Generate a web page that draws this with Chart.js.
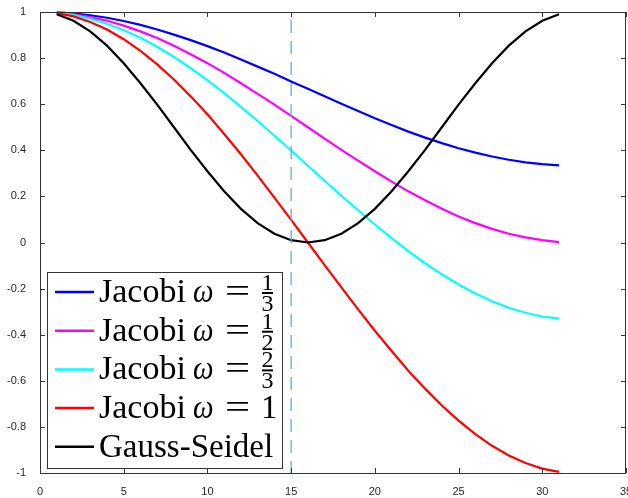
<!DOCTYPE html>
<html>
<head>
<meta charset="utf-8">
<script src="https://cdn.jsdelivr.net/npm/chart.js@4"></script>
<style>
  html, body { margin: 0; padding: 0; background: #fff; }
  #wrap { width: 628px; height: 498px; }
</style>
</head>
<body>
<div id="wrap"><canvas id="c" width="628" height="498"></canvas></div>
<script>
// mode index k
const modes = [1, 2, 3, 4, 5, 6, 7, 8, 9, 10, 11, 12, 13, 14, 15, 16,
  17, 18, 19, 20, 21, 22, 23, 24, 25, 26, 27, 28, 29, 30, 31];

// Jacobi w = 1/3
const jacobiThird = [0.998, 0.994, 0.986, 0.975, 0.961, 0.944, 0.924, 0.902, 0.878, 0.852,
  0.824, 0.794, 0.763, 0.732, 0.699, 0.667, 0.634, 0.602, 0.570, 0.539, 0.510, 0.481,
  0.455, 0.431, 0.409, 0.390, 0.373, 0.359, 0.348, 0.340, 0.335];
// Jacobi w = 1/2
const jacobiHalf = [0.998, 0.990, 0.978, 0.962, 0.941, 0.916, 0.887, 0.854, 0.817, 0.778,
  0.736, 0.691, 0.645, 0.598, 0.549, 0.500, 0.451, 0.402, 0.355, 0.309, 0.264, 0.222,
  0.183, 0.146, 0.113, 0.084, 0.059, 0.038, 0.022, 0.010, 0.002];
// Jacobi w = 2/3
const jacobiTwoThirds = [0.997, 0.987, 0.971, 0.949, 0.921, 0.888, 0.849, 0.805, 0.756, 0.704,
  0.648, 0.588, 0.527, 0.463, 0.399, 0.333, 0.268, 0.203, 0.140, 0.078, 0.019, -0.037,
  -0.090, -0.138, -0.182, -0.221, -0.255, -0.283, -0.305, -0.321, -0.330];
// Jacobi w = 1
const jacobiOne = [0.995, 0.981, 0.957, 0.924, 0.882, 0.831, 0.773, 0.707, 0.634, 0.556,
  0.471, 0.383, 0.290, 0.195, 0.098, 0.000, -0.098, -0.195, -0.290, -0.383, -0.471, -0.556,
  -0.634, -0.707, -0.773, -0.831, -0.882, -0.924, -0.957, -0.981, -0.995];
// Gauss-Seidel
const gaussSeidel = [0.990, 0.962, 0.916, 0.854, 0.778, 0.691, 0.598, 0.500, 0.402, 0.309,
  0.222, 0.146, 0.084, 0.038, 0.010, 0.000, 0.010, 0.038, 0.084, 0.146, 0.222, 0.309,
  0.402, 0.500, 0.598, 0.691, 0.778, 0.854, 0.916, 0.962, 0.990];

// dashed marker at k = 15
const markerX = [15, 15];
const markerY = [1, -1];

const series = [
  { name: "1/3", num: "1", den: "3", data: jacobiThird, color: "#0000ff" },
  { name: "1/2", num: "1", den: "2", data: jacobiHalf, color: "#ff00ff" },
  { name: "2/3", num: "2", den: "3", data: jacobiTwoThirds, color: "#00ffff" },
  { name: "1", data: jacobiOne, color: "#ff0000" },
  { name: "Gauss-Seidel", data: gaussSeidel, color: "#000000" },
];

const AXIS = "#333333";
const SERIF = '"Liberation Serif", "DejaVu Serif", serif';

// box + inward ticks on all four sides
const boxPlugin = {
  id: "box",
  afterDraw(chart) {
    const { ctx, chartArea: a, scales } = chart;
    ctx.save();
    ctx.strokeStyle = AXIS;
    ctx.lineWidth = 1;
    ctx.strokeRect(a.left + 0.5, a.top + 0.5, a.right - a.left - 1, a.bottom - a.top);
    const len = 5;
    ctx.beginPath();
    scales.x.ticks.forEach((t) => {
      const px = Math.round(scales.x.getPixelForValue(t.value)) + 0.5;
      ctx.moveTo(px, a.bottom); ctx.lineTo(px, a.bottom - len);
      ctx.moveTo(px, a.top); ctx.lineTo(px, a.top + len);
    });
    scales.y.ticks.forEach((t) => {
      const py = Math.round(scales.y.getPixelForValue(t.value)) + 0.5;
      ctx.moveTo(a.left, py); ctx.lineTo(a.left + len, py);
      ctx.moveTo(a.right, py); ctx.lineTo(a.right - len, py);
    });
    ctx.stroke();
    ctx.restore();
  },
};

// draw text stretched horizontally (TeX glyphs are wider)
function wideText(ctx, txt, x, y, sx) {
  ctx.save();
  ctx.translate(x, y);
  ctx.scale(sx, 1);
  ctx.fillText(txt, 0, 0);
  ctx.restore();
}

// LaTeX-ish legend box in lower left
const legendPlugin = {
  id: "texLegend",
  afterDraw(chart) {
    const ctx = chart.ctx;
    const bx = 47, by = 272, bw = 235, bh = 196;
    ctx.save();
    ctx.fillStyle = "#fff";
    ctx.fillRect(bx, by, bw, bh);
    ctx.strokeStyle = AXIS;
    ctx.lineWidth = 1;
    ctx.strokeRect(bx + 0.5, by + 0.5, bw, bh);

    const big = "33px " + SERIF;
    const small = "24px " + SERIF;
    const rowH = 38.7;
    series.forEach((s, i) => {
      const cy = 292 + i * rowH;
      ctx.strokeStyle = s.color;
      ctx.lineWidth = 2.5;
      ctx.beginPath();
      ctx.moveTo(55, cy); ctx.lineTo(94, cy);
      ctx.stroke();

      ctx.fillStyle = "#000";
      ctx.textBaseline = "alphabetic";
      ctx.textAlign = "left";
      const base = cy + 10;
      ctx.font = big;
      if (s.name === "Gauss-Seidel") {
        ctx.fillText("Gauss-Seidel", 99, base);
        return;
      }
      wideText(ctx, "Jacobi", 99, base, 1.03);
      ctx.font = "italic " + big;
      wideText(ctx, "\u03c9", 193, base, 0.88);
      ctx.font = big;
      wideText(ctx, "=", 225, base, 1.35);
      if (!s.num) {
        ctx.fillText(s.name, 261, base);
        return;
      }
      // stacked fraction
      ctx.font = small;
      const fx = 262, fw = 11;
      ctx.fillRect(fx, cy, fw, 2);
      ctx.textAlign = "center";
      ctx.fillText(s.num, fx + fw / 2, cy - 2);
      ctx.fillText(s.den, fx + fw / 2, cy + 19);
    });
    ctx.restore();
  },
};

const datasets = series.map((s, i) => ({
  label: s.name,
  data: modes.map((k, j) => ({ x: k, y: s.data[j] })),
  borderColor: s.color,
  borderWidth: 2.2,
  pointRadius: 0,
  tension: 0,
  fill: false,
  order: series.length - i,
}));
datasets.push({
  label: "k = 15",
  data: markerX.map((x, j) => ({ x, y: markerY[j] })),
  borderColor: "#5aaee0",
  borderWidth: 1.3,
  borderDash: [13, 8],
  borderDashOffset: 13,
  pointRadius: 0,
  fill: false,
  order: 0,
});

new Chart(document.getElementById("c"), {
  type: "line",
  data: { datasets },
  options: {
    responsive: false,
    animation: false,
    clip: false,
    layout: { padding: { top: 12, right: 2, left: 0, bottom: 0 } },
    plugins: { legend: { display: false }, tooltip: { enabled: false } },
    scales: {
      x: {
        type: "linear",
        min: 0, max: 35,
        grid: { display: false },
        border: { display: false },
        ticks: {
          stepSize: 5,
          autoSkip: false,
          maxRotation: 0,
          padding: 4,
          color: "#262626",
          font: { family: '"Liberation Sans", Arial, sans-serif', size: 11 },
        },
        afterFit(sc) { sc.height = 25; sc.paddingLeft = 0; sc.paddingRight = 0; },
      },
      y: {
        min: -1, max: 1,
        grid: { display: false },
        border: { display: false },
        ticks: {
          stepSize: 0.2,
          padding: 6,
          color: "#262626",
          font: { family: '"Liberation Sans", Arial, sans-serif', size: 11 },
          callback: (v) => String(Math.round(v * 10) / 10),
        },
        afterFit(sc) { sc.width = 40; sc.paddingTop = 0; sc.paddingBottom = 0; },
      },
    },
  },
  plugins: [boxPlugin, legendPlugin],
});
</script>
</body>
</html>
